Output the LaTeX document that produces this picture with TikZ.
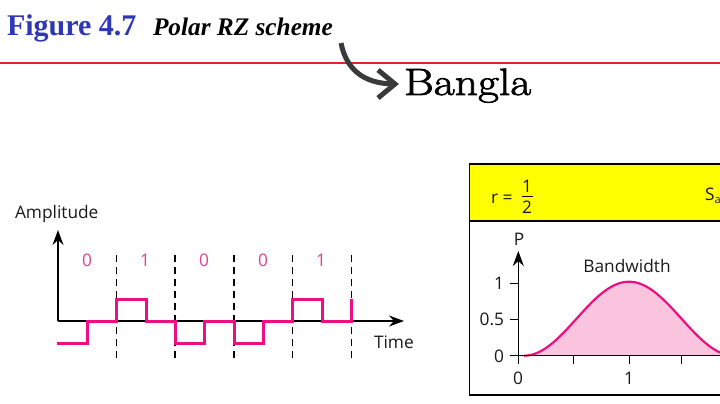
\documentclass[tikz,border=0pt]{standalone}
\usepackage{fontspec}
\setmainfont{Liberation Serif}
\newfontfamily\chartfont{Open Sans}
\newfontfamily\notefont[FakeStretch=1.2,FakeBold=2]{Latin Modern Roman}
\usetikzlibrary{arrows.meta}
\definecolor{titleblue}{HTML}{2E38B4}
\definecolor{rulered}{HTML}{E0242C}
\definecolor{sigpink}{HTML}{EC0F82}
\definecolor{digitpink}{HTML}{E0408F}
\definecolor{bandpink}{HTML}{FAC4DE}
\definecolor{noteblack}{HTML}{3A3A3A}
\definecolor{bandyellow}{HTML}{FFFF00}
\begin{document}
\begin{tikzpicture}[
    x=1pt, y=-1pt,
    >=Stealth,
    every node/.style={inner sep=0pt, outer sep=0pt},
    chartlabel/.style={font=\chartfont\fontsize{17.3}{19}\selectfont, text=black!90},
    bit/.style={font=\chartfont\fontsize{17.3}{19}\selectfont, text=digitpink},
    axisline/.style={line width=1.4pt, -{Stealth[length=15pt,width=11pt]}},
    signal/.style={draw=sigpink, line width=3pt, line join=miter}
  ]
    \clip (0,0) rectangle (720,404);
    % Title
    \node[anchor=base west, font=\bfseries\fontsize{30}{34}\selectfont, text=titleblue] (figno) at (7,36) {Figure 4.7};
    \node[anchor=base west, font=\bfseries\itshape\fontsize{25.3}{28}\selectfont] (figname) at (153,36) {Polar RZ scheme};
    \draw[rulered, line width=1.4pt] (0,63) -- (720,63);
    % Note
    \node[anchor=base west, font=\notefont\fontsize{38}{42}\selectfont] (bangla) at (404,95) {Bangla};
    \coordinate (notefrom) at (341,43);
    \coordinate (noteto) at (395,84);
    \draw[noteblack, line width=5pt] (notefrom) .. controls (346,68) and (362,84) .. (noteto);
    \draw[noteblack, line width=5pt, line join=miter] (378,70) -- (noteto) -- (378,98);
    % Signal plot
    \node[chartlabel, anchor=base west] (amp) at (15,218) {Amplitude};
    \node[chartlabel, anchor=base west] (timelbl) at (374,348) {Time};
    \foreach \x in {116.7,175,234,292.7,351.7}
      \draw[line width=1.5pt, dash pattern=on 7pt off 5pt] (\x,358) -- (\x,252);
    \draw[axisline] (58,321) -- (58,230);
    \draw[axisline] (58,321) -- (404,321);
    \draw[signal] (57,343) -- (87,343) -- (87,321) -- (116.7,321) -- (116.7,299) -- (146,299)
      -- (146,321) -- (175,321) -- (175,343) -- (204.5,343) -- (204.5,321) -- (234,321)
      -- (234,343) -- (263.5,343) -- (263.5,321) -- (292.7,321) -- (292.7,299) -- (322,299)
      -- (322,321) -- (351.7,321) -- (351.7,299);
    \foreach \x/\b in {87/0,145/1,204/0,263/0,321/1}
      \node[bit] (bit\x) at (\x,260) {\b};
    % Rate panel
    \fill[bandyellow] (469.5,164) rectangle (730,221);
    \draw[line width=1.8pt] (730,164) -- (469.5,164) -- (469.5,395) -- (730,395);
    \draw[line width=1.8pt] (469.5,221) -- (730,221);
    \node[chartlabel, anchor=base west] (rate) at (491,203) {r =};
    \node[chartlabel, anchor=base] (rnum) at (527,192) {1};
    \node[chartlabel, anchor=base] (rden) at (527,213) {2};
    \draw[line width=1pt] (522,196) -- (533,196);
    \node[chartlabel, anchor=base west] (sa) at (705,200) {S\raisebox{-3pt}{\fontsize{11}{12}\selectfont a}};
    % Bandwidth plot
    \fill[bandpink, domain=524:734, samples=80] plot (\x,{355.7-37*(1+cos(1.7143*(\x-629)))}) -- cycle;
    \draw[sigpink, line width=2.2pt, domain=524:734, samples=80] plot (\x,{355.7-37*(1+cos(1.7143*(\x-629)))});
    \draw[line width=1.3pt] (510,355.7) -- (730,355.7);
    \draw[axisline] (518.3,364) -- (518.3,251);
    \foreach \y in {283,319}
      \draw[line width=1pt] (510,\y) -- (518.3,\y);
    \foreach \x in {573,629,681}
      \draw[line width=1pt] (\x,355.7) -- (\x,364);
    \node[chartlabel] (pname) at (519,239) {P};
    \node[chartlabel] (bw) at (627,266) {Bandwidth};
    \node[chartlabel, anchor=east] (yone) at (504,283) {1};
    \node[chartlabel, anchor=east] (yhalf) at (504,319) {0.5};
    \node[chartlabel, anchor=east] (yzero) at (504,356) {0};
    \node[chartlabel] (xzero) at (518,378) {0};
    \node[chartlabel] (xone) at (629,378) {1};
  \end{tikzpicture}
\end{document}
